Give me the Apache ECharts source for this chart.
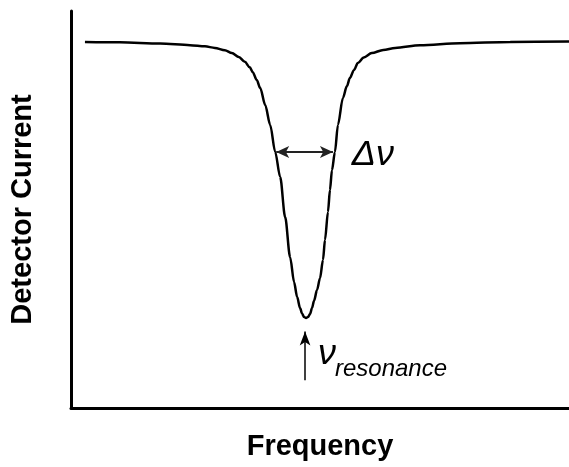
<!DOCTYPE html>
<html>
<head>
<meta charset="utf-8">
<script src="https://cdn.jsdelivr.net/npm/echarts@6/dist/echarts.min.js"></script>
<style>
  html, body { margin: 0; padding: 0; background: #fff; }
  #chart { width: 569px; height: 467px; }
</style>
</head>
<body>
<div id="chart"></div>
<script>
// Resonance dip: detector current versus frequency (arbitrary units)
const frequency = [
  2.8, 9.8, 17.9, 23.9, 26.9, 28.9, 30.9, 32.3, 33.7, 34.9,
  35.9, 36.5, 37.3, 38.0, 39.0, 40.0, 41.0, 42.0, 43.0, 44.0,
  44.8, 45.4, 46.0, 46.4, 46.8, 47.2, 47.6, 48.0, 48.4, 48.8,
  49.4, 50.0, 50.6, 51.0, 51.6, 52.0, 52.4, 53.0, 53.6, 54.6,
  55.4, 56.0, 56.8, 57.6, 58.8, 60.4, 62.7, 65.1, 70.1, 78.1,
  88.2, 100.0
];
const detectorCurrent = [
  92.2, 92.1, 91.8, 91.4, 91.1, 90.7, 90.1, 89.4, 88.4, 87.2,
  85.8, 84.6, 82.6, 80.6, 76.3, 71.3, 64.5, 58.2, 48.1, 38.0,
  31.7, 28.0, 25.2, 23.8, 22.9, 22.7, 22.9, 23.7, 25.2, 27.0,
  29.7, 32.7, 37.3, 42.3, 49.4, 54.9, 59.9, 64.5, 71.3, 78.1,
  81.1, 83.1, 85.1, 86.9, 88.3, 89.4, 90.2, 90.7, 91.4, 91.9,
  92.2, 92.3
];

// Linewidth arrow (from, to) at its height, and the resonance arrow
const widthArrowX = [41.2, 52.6];
const widthArrowY = 64.5;
const resonanceArrowX = 47.0;
const resonanceArrowY = [7.0, 19.3];

// Annotation text anchors
const widthLabel = { text: 'Δν', x: 56.4, y: 63.7 };
const resonanceLabel = { symbol: 'ν', x: 49.6, y: 13.6, sub: 'resonance', subX: 53.0, subY: 9.8 };

const points = frequency.map((f, i) => [f, detectorCurrent[i]]);
const font = '"Liberation Sans", Arial, sans-serif';

const chart = echarts.init(document.getElementById('chart'));
chart.setOption({
  animation: false,
  grid: { left: 71, top: 11, right: 0, bottom: 59 },
  xAxis: {
    type: 'value', min: 0, max: 100,
    name: 'Frequency', nameLocation: 'middle', nameGap: 24,
    nameTextStyle: { fontFamily: font, fontWeight: 'bold', fontSize: 29, color: '#000' },
    axisLine: { show: true, onZero: false, lineStyle: { color: '#000', width: 3 } },
    axisTick: { show: false }, axisLabel: { show: false }, splitLine: { show: false }
  },
  yAxis: {
    type: 'value', min: 0, max: 100,
    name: 'Detector Current', nameLocation: 'middle', nameGap: 34,
    nameTextStyle: { fontFamily: font, fontWeight: 'bold', fontSize: 29, color: '#000' },
    axisLine: { show: true, onZero: false, lineStyle: { color: '#000', width: 3 } },
    axisTick: { show: false }, axisLabel: { show: false }, splitLine: { show: false }
  },
  series: [{
    type: 'line',
    data: points,
    smooth: 0.3,
    smoothMonotone: 'x',
    showSymbol: false,
    lineStyle: { color: '#000', width: 2.5 },
    markLine: {
      silent: true,
      label: { show: false },
      data: [
        [
          { coord: [widthArrowX[0], widthArrowY], symbol: 'arrow', symbolSize: [9, 13],
            lineStyle: { color: '#222', width: 2, type: 'solid' } },
          { coord: [widthArrowX[1], widthArrowY], symbol: 'arrow', symbolSize: [9, 13] }
        ],
        [
          { coord: [resonanceArrowX, resonanceArrowY[0]], symbol: 'none',
            lineStyle: { color: '#000', width: 1.5, type: 'solid' } },
          { coord: [resonanceArrowX, resonanceArrowY[1]], symbol: 'arrow', symbolSize: [8, 14] }
        ]
      ]
    },
    markPoint: {
      silent: true,
      symbol: 'circle',
      symbolSize: 0,
      data: [
        { coord: [widthLabel.x, widthLabel.y],
          label: { show: true, formatter: widthLabel.text, position: 'right', distance: 0,
                   fontFamily: font, fontStyle: 'italic', fontSize: 36, color: '#000' } },
        { coord: [resonanceLabel.x, resonanceLabel.y],
          label: { show: true, formatter: resonanceLabel.symbol, position: 'right', distance: 0,
                   fontFamily: font, fontStyle: 'italic', fontSize: 36, color: '#000' } },
        { coord: [resonanceLabel.subX, resonanceLabel.subY],
          label: { show: true, formatter: resonanceLabel.sub, position: 'right', distance: 0,
                   fontFamily: font, fontStyle: 'italic', fontSize: 24, color: '#000' } }
      ]
    }
  }]
});
</script>
</body>
</html>
